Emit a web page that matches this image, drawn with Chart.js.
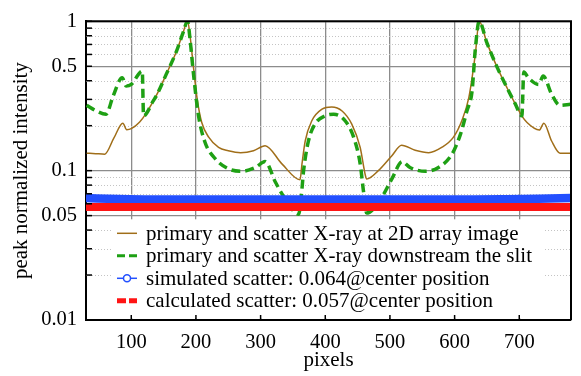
<!doctype html>
<html>
  <head>
    <title>Peak normalized intensity</title>
    <script src="https://cdn.jsdelivr.net/npm/chart.js@4.4.1/dist/chart.umd.min.js"></script>
    <style>
      body { margin: 0; background: #fff; }
    </style>
  </head>
  <body>
    <canvas id="profile" width="581" height="376"></canvas>
  </body>
  <script>
    // profile along the detector row (x in pixels)
    const primaryImageX = [31, 45, 59, 73, 87, 93, 100, 113, 123, 139, 154, 170, 180, 187, 191, 196, 202, 209, 220, 235, 250, 269, 289, 307, 333, 361, 364, 369, 379, 395, 410, 426, 441, 454, 462, 464, 482, 503, 518, 539, 560, 580, 598, 611, 622, 632, 638, 650, 665, 681, 694, 704, 712, 731, 738, 750, 763, 780];
    const primaryImageY = [0.131, 0.130, 0.129, 0.165, 0.208, 0.188, 0.191, 0.212, 0.242, 0.320, 0.441, 0.631, 0.836, 1.0, 0.794, 0.501, 0.300, 0.210, 0.167, 0.143, 0.136, 0.132, 0.136, 0.147, 0.111, 0.087, 0.111, 0.158, 0.215, 0.258, 0.267, 0.251, 0.205, 0.143, 0.093, 0.088, 0.100, 0.126, 0.148, 0.137, 0.132, 0.143, 0.167, 0.215, 0.308, 0.600, 1.0, 0.717, 0.501, 0.359, 0.279, 0.233, 0.210, 0.187, 0.208, 0.158, 0.131, 0.131];

    const slitX = [31, 46, 61, 72, 86, 92, 100, 117, 119, 134, 139, 154, 170, 180, 187, 191, 196, 204, 214, 230, 250, 271, 292, 307, 323, 338, 359, 363, 366.5, 374, 384, 400, 413, 431, 444, 454, 459, 464, 487, 503, 519, 531, 555, 575, 596, 609, 619, 627, 632, 638, 650, 665, 681, 694, 704, 707, 714, 730, 737, 750, 763, 779];
    const slitY = [0.274, 0.251, 0.239, 0.316, 0.419, 0.369, 0.378, 0.464, 0.233, 0.293, 0.318, 0.441, 0.631, 0.836, 1.0, 0.75, 0.453, 0.233, 0.155, 0.120, 0.103, 0.099, 0.105, 0.115, 0.0836, 0.0648, 0.051, 0.068, 0.1, 0.158, 0.205, 0.233, 0.239, 0.215, 0.167, 0.111, 0.0734, 0.052, 0.066, 0.088, 0.115, 0.105, 0.099, 0.105, 0.129, 0.175, 0.251, 0.341, 0.648, 1.0, 0.717, 0.501, 0.359, 0.279, 0.233, 0.457, 0.419, 0.378, 0.430, 0.325, 0.274, 0.278];

    const scatterX = [30, 80, 130, 180, 230, 280, 330, 380, 430, 480, 530, 580, 630, 680, 730, 780];
    const simulatedY = [0.0655, 0.0645, 0.064, 0.064, 0.064, 0.064, 0.064, 0.064, 0.064, 0.064, 0.064, 0.064, 0.064, 0.0643, 0.0648, 0.0655];
    const calculatedY = [0.057, 0.057, 0.057, 0.057, 0.057, 0.057, 0.057, 0.057, 0.057, 0.057, 0.057, 0.057, 0.057, 0.057, 0.057, 0.057];

    const xTicks = [100, 200, 300, 400, 500, 600, 700];
    const yTicks = [0.01, 0.02, 0.03, 0.04, 0.05, 0.06, 0.07, 0.08, 0.09, 0.1, 0.2, 0.3, 0.4, 0.5, 0.6, 0.7, 0.8, 0.9, 1];
    const yLabels = [0.01, 0.05, 0.1, 0.5, 1];

    const serif = (size) => ({ family: "'Liberation Serif', 'Times New Roman', serif", size: size });
    const toPoints = (xs, ys) => xs.map((x, i) => ({ x: x, y: ys[i] }));

    // dotted minor grid, inward tick marks and the frame
    const frame = {
      id: 'frame',
      beforeDatasetsDraw(chart) {
        const { ctx, chartArea: a, scales: { y } } = chart;
        ctx.save();
        ctx.strokeStyle = '#c4c4c4';
        ctx.lineWidth = 1;
        ctx.setLineDash([1, 2]);
        yTicks.filter(v => !yLabels.includes(v)).forEach(v => {
          const py = Math.round(y.getPixelForValue(v)) + 0.5;
          ctx.beginPath();
          ctx.moveTo(a.left, py);
          ctx.lineTo(a.right, py);
          ctx.stroke();
        });
        ctx.restore();
      },
      afterDraw(chart) {
        const { ctx, chartArea: a, scales: { x, y } } = chart;
        ctx.save();
        ctx.strokeStyle = '#000';
        ctx.lineWidth = 1.5;
        yTicks.forEach(v => {
          const py = y.getPixelForValue(v);
          ctx.beginPath();
          ctx.moveTo(a.left, py);
          ctx.lineTo(a.left + 6, py);
          ctx.stroke();
        });
        xTicks.forEach(v => {
          const px = x.getPixelForValue(v);
          ctx.beginPath();
          ctx.moveTo(px, a.bottom);
          ctx.lineTo(px, a.bottom - 5);
          ctx.stroke();
        });
        ctx.lineWidth = 2;
        ctx.beginPath();
        ctx.moveTo(a.left, a.top);
        ctx.lineTo(a.right, a.top);
        ctx.lineTo(a.right, a.bottom);
        ctx.stroke();
        ctx.restore();
      }
    };

    // legend box sitting inside the lower part of the plot
    const boxLegend = {
      id: 'boxLegend',
      afterDatasetsDraw(chart) {
        const { ctx, chartArea: a } = chart;
        const left = a.left + 27, top = a.top + 198;
        ctx.save();
        ctx.fillStyle = '#fff';
        ctx.fillRect(left, top, 432, a.bottom - top - 2);
        ctx.font = "21px 'Liberation Serif', serif";
        ctx.textBaseline = 'middle';
        chart.data.datasets.forEach((ds, i) => {
          const ly = top + 14 + i * 22.5;
          const x0 = left + 4, x1 = left + 24;
          ctx.strokeStyle = ds.borderColor;
          ctx.lineWidth = ds.legendWidth;
          ctx.setLineDash(ds.legendDash);
          ctx.beginPath();
          ctx.moveTo(x0, ly);
          ctx.lineTo(x1, ly);
          ctx.stroke();
          ctx.setLineDash([]);
          if (ds.legendMarker) {
            ctx.fillStyle = '#fff';
            ctx.lineWidth = 1.5;
            ctx.beginPath();
            ctx.arc((x0 + x1) / 2, ly, 3.5, 0, Math.PI * 2);
            ctx.fill();
            ctx.stroke();
          }
          ctx.fillStyle = '#000';
          ctx.fillText(ds.label, left + 33, ly + 1);
        });
        ctx.restore();
      }
    };

    const profileChart = new Chart(document.getElementById('profile').getContext('2d'), {
      type: 'line',
      data: {
        datasets: [{
          label: 'primary and scatter X-ray at 2D array image',
          data: toPoints(primaryImageX, primaryImageY),
          borderColor: 'rgb(160, 110, 25)',
          borderWidth: 1.5,
          pointRadius: 0,
          cubicInterpolationMode: 'monotone',
          legendWidth: 1.5, legendDash: [],
          order: 4,
        }, {
          label: 'primary and scatter X-ray downstream the slit',
          data: toPoints(slitX, slitY),
          borderColor: 'rgb(30, 160, 20)',
          borderWidth: 3.5,
          borderDash: [9, 5],
          pointRadius: 0,
          cubicInterpolationMode: 'monotone',
          legendWidth: 3, legendDash: [8, 4],
          order: 3,
        }, {
          label: 'simulated scatter: 0.064@center position',
          data: toPoints(scatterX, simulatedY),
          borderColor: 'rgb(35, 80, 255)',
          borderWidth: 8.5,
          pointRadius: 0,
          cubicInterpolationMode: 'monotone',
          legendWidth: 1.5, legendDash: [], legendMarker: true,
          order: 2,
        }, {
          label: 'calculated scatter: 0.057@center position',
          data: toPoints(scatterX, calculatedY),
          borderColor: 'rgb(255, 20, 20)',
          borderWidth: 8,
          pointRadius: 0,
          legendWidth: 5, legendDash: [9, 3],
          order: 1,
        }]
      },
      options: {
        responsive: false,
        animation: false,
        layout: { padding: { top: 20, right: 10, left: 0, bottom: 0 } },
        plugins: { legend: { display: false }, tooltip: { enabled: false } },
        scales: {
          x: {
            type: 'linear',
            min: 30,
            max: 780,
            afterBuildTicks: (s) => { s.ticks = xTicks.map(v => ({ value: v })); },
            afterFit: (s) => { s.height = 56; },
            ticks: { font: serif(20.5), color: '#000', padding: 10, maxRotation: 0 },
            grid: { color: '#8c8c8c', lineWidth: 1.3, drawTicks: false },
            border: { color: '#000', width: 2 },
            title: { display: true, text: 'pixels', font: serif(21), color: '#000', padding: { top: 0, bottom: 3 } }
          },
          y: {
            type: 'logarithmic',
            min: 0.01,
            max: 1,
            afterBuildTicks: (s) => { s.ticks = yTicks.map(v => ({ value: v })); },
            afterFit: (s) => { s.width = 86; },
            ticks: {
              font: serif(20.5), color: '#000', padding: 9, autoSkip: false,
              callback: (v) => yLabels.includes(v) ? String(v) : ''
            },
            grid: {
              color: (c) => (c.tick && yLabels.includes(c.tick.value)) ? '#8c8c8c' : 'rgba(0,0,0,0)',
              lineWidth: 1.3,
              drawTicks: false
            },
            border: { color: '#000', width: 2 },
            title: { display: true, text: 'peak normalized intensity', font: serif(21), color: '#000', padding: { top: 9, bottom: 0 } }
          }
        }
      },
      plugins: [frame, boxLegend]
    });
  </script>
</html>
